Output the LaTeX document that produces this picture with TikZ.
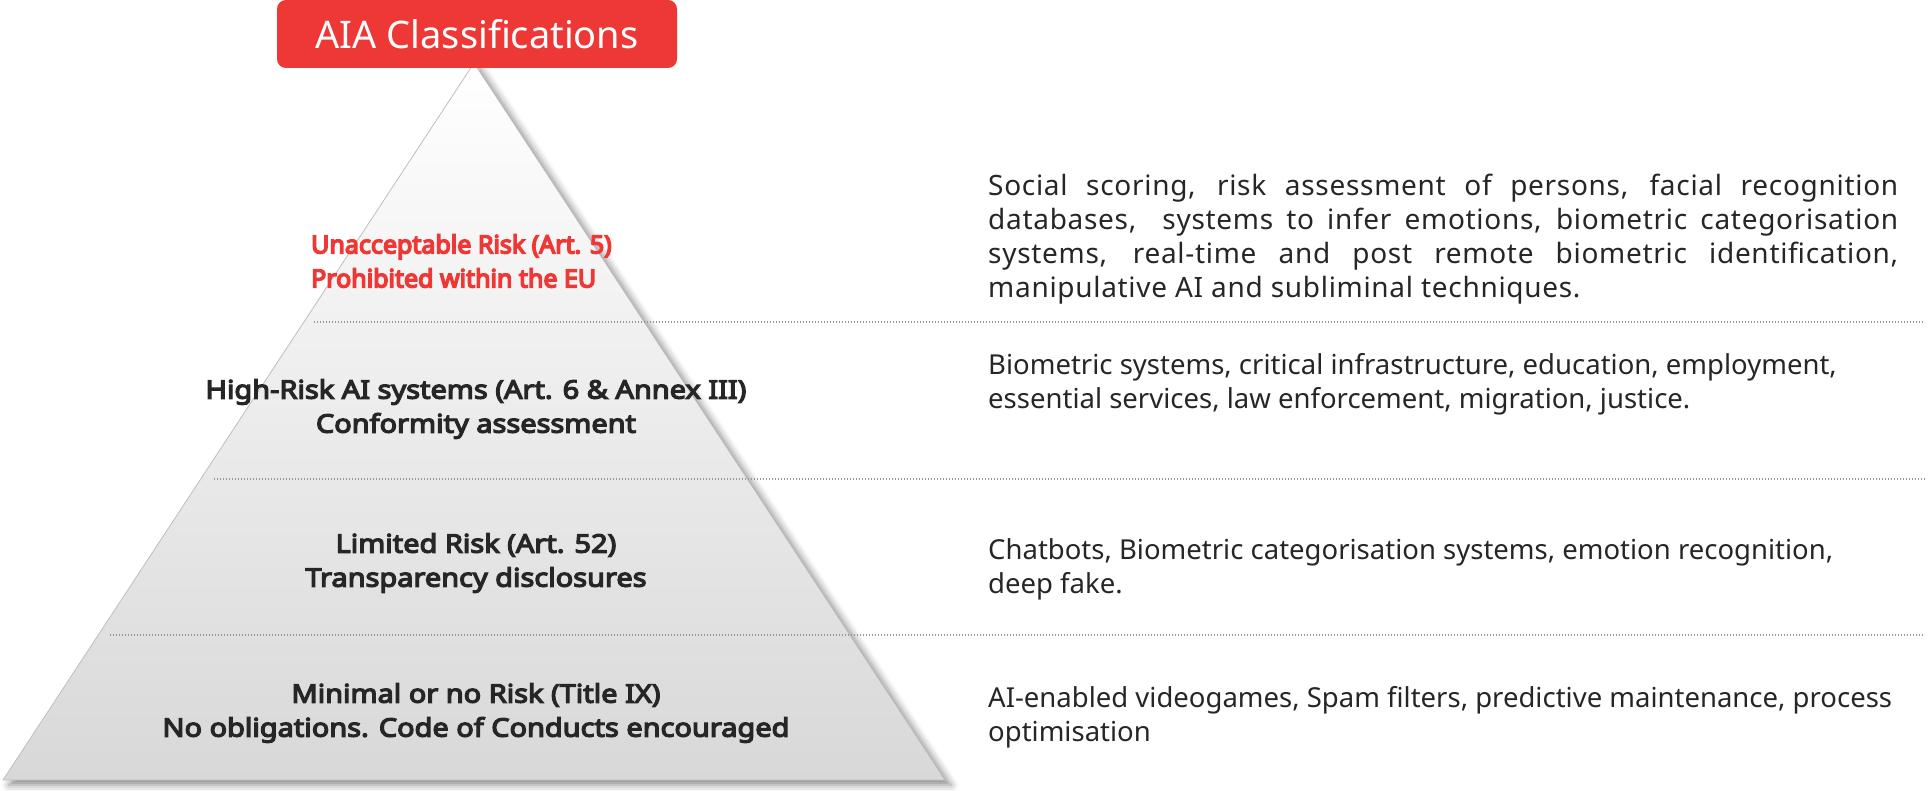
\documentclass[tikz,border=0pt]{standalone}
\usepackage{fontspec}
\setmainfont{Noto Sans}
\newfontfamily\labelfont{Noto Sans}[FakeBold=5, FakeStretch=1.135]
\newfontfamily\redfont{Noto Sans}[FakeBold=6]
\newfontfamily\widefont{Noto Sans}[LetterSpace=2.5]
\usetikzlibrary{shadows.blur,calc}
\definecolor{aiared}{RGB}{238,56,54}
\definecolor{ink}{RGB}{38,38,38}
\definecolor{tierbot}{RGB}{216,216,216}
\definecolor{tieredge}{RGB}{190,190,190}
\definecolor{dotgray}{RGB}{150,150,150}

\begin{document}
\begin{tikzpicture}[x=1pt,y=-1pt,
  tierlabel/.style={font=\labelfont\fontsize{25.5}{34}\selectfont,
    text=ink, align=center, inner sep=0pt},
  redlabel/.style={font=\redfont\fontsize{25}{34}\selectfont,
    text=aiared, align=left, inner sep=0pt, anchor=west},
  desc/.style={font=\fontsize{27.5}{34}\selectfont, text=ink, align=left,
    inner sep=0pt, anchor=west},
  descwide/.style={font=\widefont\fontsize{28}{34}\selectfont, text=ink,
    inner sep=0pt, anchor=west, text width=910pt, align=justify},
  divider/.style={draw=dotgray, line width=1.6pt, dash pattern=on 1.4pt off 1.6pt},
  titlebox/.style={fill=aiared, rounded corners=9pt, minimum width=400pt,
    minimum height=68pt, text=white, font=\fontsize{38}{44}\selectfont, inner sep=0pt}
]
\useasboundingbox (0,0) rectangle (1929,791);

% pyramid outline
\coordinate (apex) at (474,63);
\coordinate (bl) at (3,780);
\coordinate (br) at (945,780);
\path[draw=tieredge, line width=0.8pt, top color=white, bottom color=tierbot,
  blur shadow={shadow xshift=6pt, shadow yshift=-5pt, shadow blur radius=7pt,
  shadow opacity=45}]
  (apex) -- (br) -- (bl) -- cycle;

% tier dividers
\coordinate (d1l) at (314,322);  \coordinate (d1r) at (1925,322);
\coordinate (d2l) at (214,479);  \coordinate (d2r) at (1925,479);
\coordinate (d3l) at (110,635);  \coordinate (d3r) at (1925,635);
\draw[divider] (d1l) -- (d1r);
\draw[divider] (d2l) -- (d2r);
\draw[divider] (d3l) -- (d3r);

% title
\node[titlebox] (title) at (477,34) {AIA Classifications};

% tier labels
\node[redlabel] (t1) at (311,261) {Unacceptable Risk (Art. 5)\\Prohibited within the EU};
\node[tierlabel] (t2) at (476,409) {High-Risk AI systems (Art. 6 \& Annex III)\\Conformity assessment};
\node[tierlabel] (t3) at (476,563) {Limited Risk (Art. 52)\\Transparency disclosures};
\node[tierlabel] (t4) at (476,713) {Minimal or no Risk (Title IX)\\No obligations. Code of Conducts encouraged};

% descriptions
\node[descwide] (e1) at (988,239) {Social scoring, risk assessment of persons, facial recognition\linebreak databases,\ \ systems to infer emotions, biometric categorisation\linebreak systems, real-time and post remote biometric identification,\linebreak manipulative AI and subliminal techniques.};
\node[desc] (e2) at (988,384) {Biometric systems, critical infrastructure, education, employment,\\essential services, law enforcement, migration, justice.};
\node[desc] (e3) at (988,569) {Chatbots, Biometric categorisation systems, emotion recognition,\\deep fake.};
\node[desc] (e4) at (988,717) {AI-enabled videogames, Spam filters, predictive maintenance, process\\optimisation};
\end{tikzpicture}
\end{document}
